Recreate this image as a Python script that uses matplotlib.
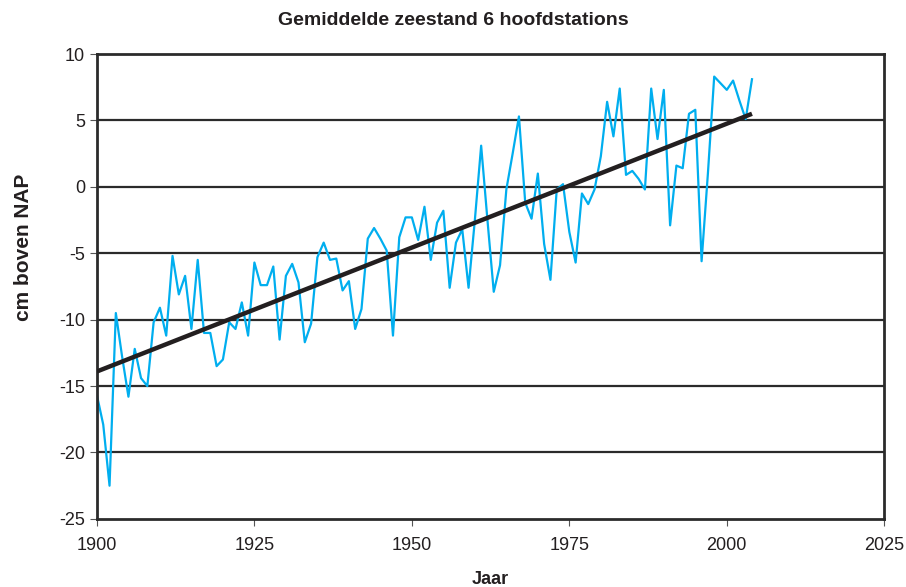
import matplotlib
matplotlib.use('Agg')
import matplotlib.pyplot as plt

# ---------------------------------------------------------
# data
# ---------------------------------------------------------
years = list(range(1900, 2005))
zeestand = [
    -15.7, -17.9, -22.5, -9.5, -12.8, -15.8, -12.2, -14.4, -15.0, -10.2,   # 1900-1909
    -9.1, -11.2, -5.2, -8.1, -6.7, -10.7, -5.5, -11.0, -11.0, -13.5,       # 1910-1919
    -13.0, -10.2, -10.7, -8.7, -11.2, -5.7, -7.4, -7.4, -6.0, -11.5,       # 1920-1929
    -6.7, -5.8, -7.2, -11.7, -10.3, -5.3, -4.2, -5.5, -5.4, -7.8,          # 1930-1939
    -7.1, -10.7, -9.2, -3.9, -3.1, -3.9, -4.8, -11.2, -3.8, -2.3,          # 1940-1949
    -2.3, -4.0, -1.5, -5.5, -2.7, -1.8, -7.6, -4.2, -3.2, -7.6,            # 1950-1959
    -2.5, 3.1, -2.5, -7.9, -5.9, -0.2, 2.5, 5.3, -1.2, -2.4,               # 1960-1969
    1.0, -4.3, -7.0, -0.2, 0.2, -3.4, -5.7, -0.5, -1.3, -0.2,              # 1970-1979
    2.3, 6.4, 3.8, 7.4, 0.9, 1.2, 0.6, -0.2, 7.4, 3.6,                     # 1980-1989
    7.3, -2.9, 1.6, 1.4, 5.5, 5.8, -5.6, 1.0, 8.3, 7.8,                    # 1990-1999
    7.3, 8.0, 6.5, 5.1, 8.1,                                               # 2000-2004
]
trend_years = [1900, 2004]
trend_values = [-13.9, 5.5]

x_ticks = [1900, 1925, 1950, 1975, 2000, 2025]
y_ticks = [-25, -20, -15, -10, -5, 0, 5, 10]

# ---------------------------------------------------------
# grafiek
# ---------------------------------------------------------
plt.rcParams['font.family'] = ['Liberation Sans Narrow', 'Liberation Sans', 'DejaVu Sans']
plt.rcParams['axes.unicode_minus'] = False

fig = plt.figure(figsize=(9.06, 5.87), dpi=100)
ax = fig.add_axes([0.107, 0.116, 0.869, 0.792])

for v in y_ticks[1:-1]:
    ax.axhline(v, color='#2b2b2b', linewidth=1.6, zorder=1)

ax.plot(years, zeestand, color='#00aeef', linewidth=1.6, zorder=2)
ax.plot(trend_years, trend_values, color='#231f20', linewidth=3.2,
        solid_capstyle='butt', zorder=3)

ax.set_xlim(1900, 2025)
ax.set_ylim(-25, 10)
ax.set_xticks(x_ticks)
ax.set_yticks(y_ticks)
ax.tick_params(axis='both', direction='out', length=5, width=0.8,
               labelsize=13, color='#555555', labelcolor='#231f20')
ax.tick_params(axis='x', pad=8)

for side in ['left', 'right', 'top', 'bottom']:
    ax.spines[side].set_linewidth(2.0)
    ax.spines[side].set_color('#2b2b2b')

bold_font = ['Liberation Sans', 'DejaVu Sans']
fig.text(0.5, 0.965, 'Gemiddelde zeestand 6 hoofdstations', ha='center',
         va='center', fontsize=14, fontweight='bold',
         family=bold_font, color='#231f20')
ax.set_xlabel('Jaar', fontsize=13, fontweight='bold', labelpad=12,
              family=bold_font, color='#231f20')
fig.text(0.026, 0.579, 'cm boven NAP', rotation=90, ha='center',
         va='center', fontsize=15, fontweight='bold',
         family=bold_font, color='#231f20')

fig.savefig('out.png', dpi=100)
